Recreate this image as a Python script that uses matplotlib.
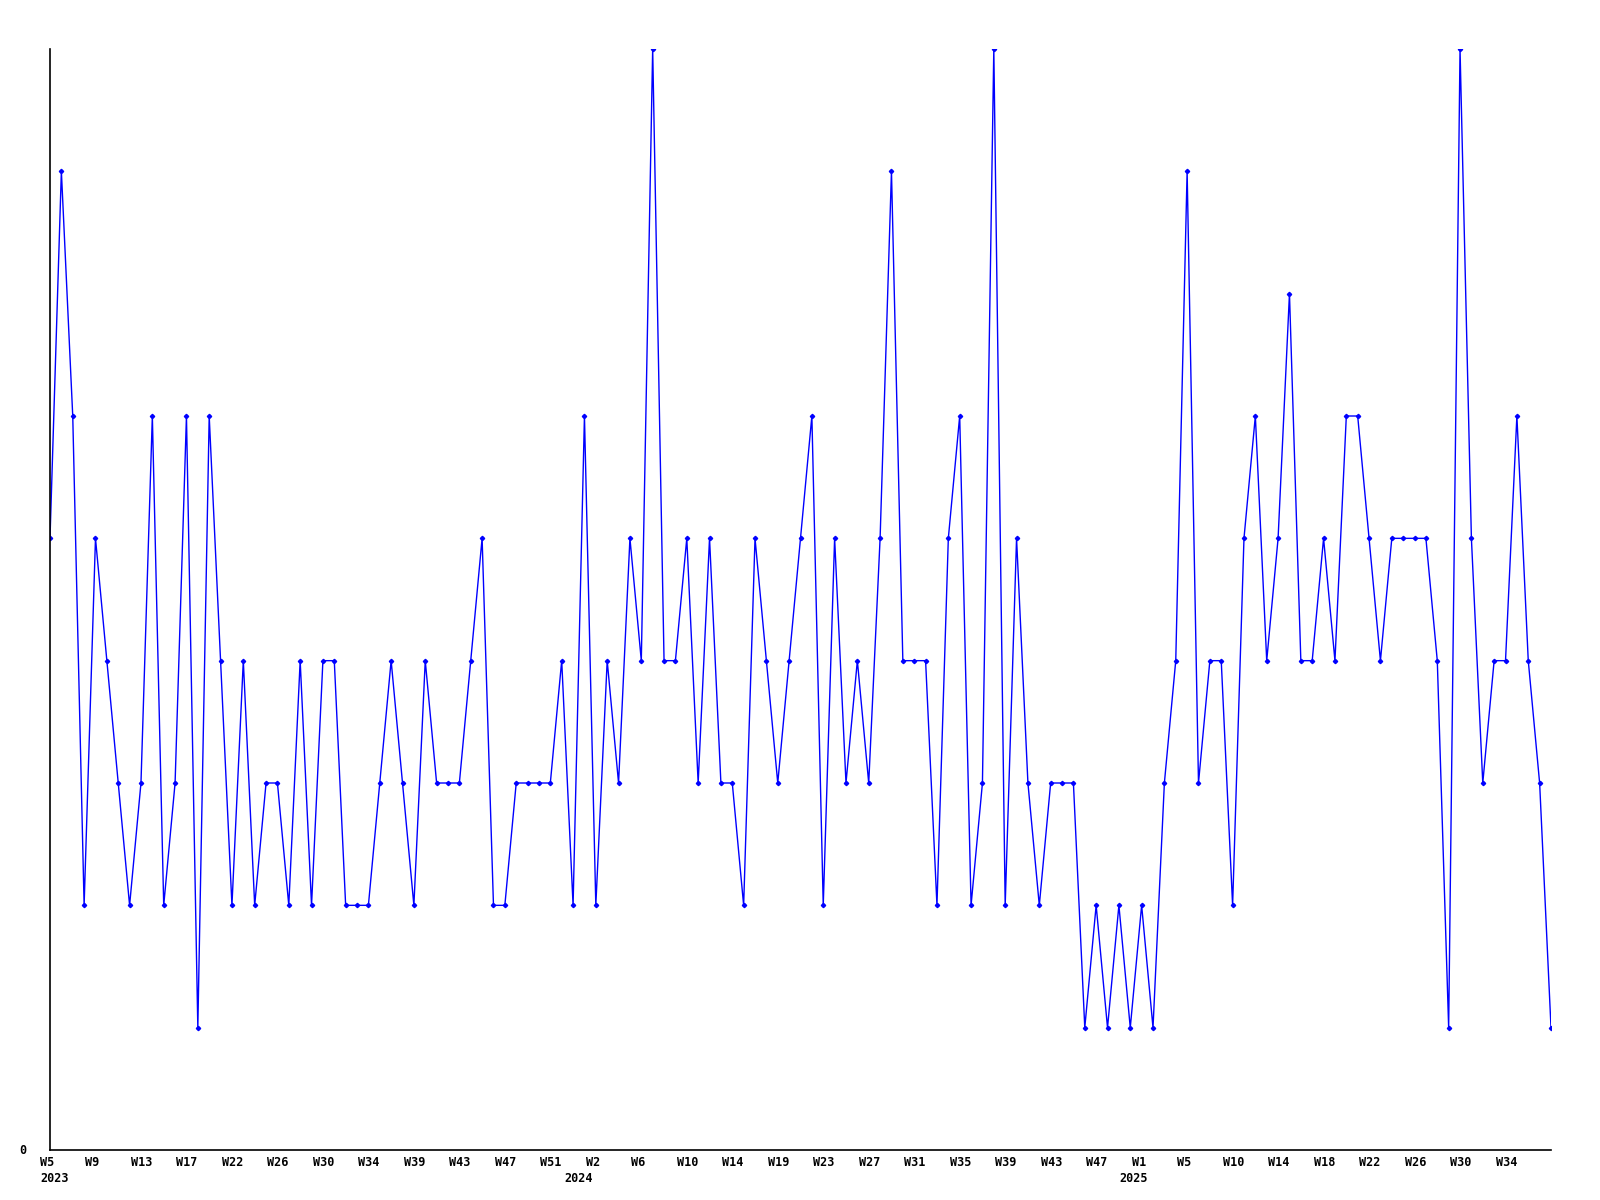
import matplotlib
matplotlib.use("Agg")
import matplotlib.pyplot as plt

# weekly values, 2023 W5 onwards
values = [5, 8, 6, 2, 5, 4, 3, 2, 3, 6, 2, 3, 6, 1, 6, 4, 2, 4, 2, 3,
          3, 2, 4, 2, 4, 4, 2, 2, 2, 3, 4, 3, 2, 4, 3, 3, 3, 4, 5, 2,
          2, 3, 3, 3, 3, 4, 2, 6, 2, 4, 3, 5, 4, 9, 4, 4, 5, 3, 5, 3,
          3, 2, 5, 4, 3, 4, 5, 6, 2, 5, 3, 4, 3, 5, 8, 4, 4, 4, 2, 5,
          6, 2, 3, 9, 2, 5, 3, 2, 3, 3, 3, 1, 2, 1, 2, 1, 2, 1, 3, 4,
          8, 3, 4, 4, 2, 5, 6, 4, 5, 7, 4, 4, 5, 4, 6, 6, 5, 4, 5, 5,
          5, 5, 4, 1, 9, 5, 3, 4, 4, 6, 4, 3, 1]

# one label every 4 points
week_labels = ["W5", "W9", "W13", "W17", "W22", "W26", "W30", "W34", "W39",
               "W43", "W47", "W51", "W2", "W6", "W10", "W14", "W19", "W23",
               "W27", "W31", "W35", "W39", "W43", "W47", "W1", "W5", "W10",
               "W14", "W18", "W22", "W26", "W30", "W34"]
# year label -> (index in week_labels, pixel shift to the left)
year_labels = {"2023": (0, 0), "2024": (12, 21), "2025": (24, 12)}

fig = plt.figure(figsize=(16, 12), dpi=100)
ax = fig.add_axes([50 / 1600, 50 / 1200, 1501 / 1600, 1101 / 1200])

x = list(range(len(values)))
ax.plot(x, values, color="#0000ff", lw=1.0, marker="D", ms=2.2, mec="#0000ff", mfc="#0000ff")

ax.set_xlim(0, len(values) - 1)
ax.set_ylim(0, 9)
for s in ["top", "right"]:
    ax.spines[s].set_visible(False)
for s in ["left", "bottom"]:
    ax.spines[s].set_linewidth(1.2)
    ax.spines[s].set_color("black")
ax.set_xticks([])
ax.set_yticks([])

font = dict(family="DejaVu Sans Mono", weight="bold", fontsize=8.5)
fig.text(19 / 1600, 1 - 1150 / 1200, "0", ha="left", va="center", **font)


def label_x(k, shift=0):
    xp = ax.transData.transform((4 * k, 0))[0] - 10 - shift
    return fig.transFigure.inverted().transform((xp, 0))[0]


for k, lab in enumerate(week_labels):
    fig.text(label_x(k), 1 - 1162 / 1200, lab, ha="left", va="center", **font)

for yr, (k, shift) in year_labels.items():
    fig.text(label_x(k, shift), 1 - 1178 / 1200, yr, ha="left", va="center", **font)

fig.savefig("out.png", dpi=100)
